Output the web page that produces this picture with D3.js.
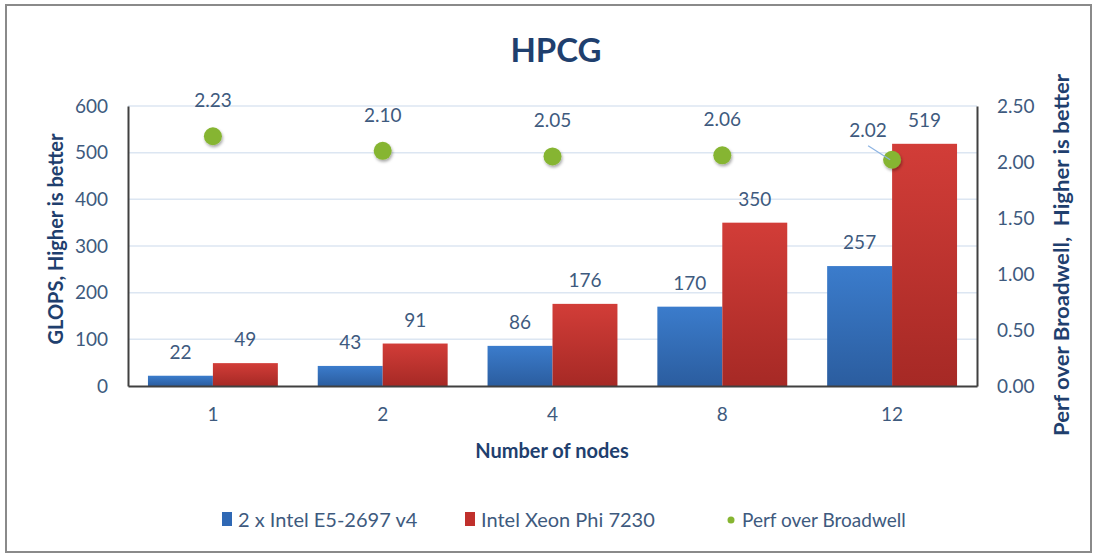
<!DOCTYPE html>
<html>
<head>
<meta charset="utf-8">
<script src="https://cdn.jsdelivr.net/npm/d3@7"></script>
<style>
  body { margin: 0; background: #fff; }
  svg { font-family: Lato, "Open Sans", sans-serif; }
</style>
</head>
<body>
<svg id="chart" width="1098" height="555"></svg>
<script>
// data
var nodes = ["1", "2", "4", "8", "12"];
var broadwell = [22, 43, 86, 170, 257];
var xeonPhi = [49, 91, 176, 350, 519];
var perfRatio = [2.23, 2.10, 2.05, 2.06, 2.02];
var leftTicks = [0, 100, 200, 300, 400, 500, 600];
var rightTicks = [0, 0.5, 1, 1.5, 2, 2.5];
var seriesNames = ["2 x Intel E5-2697 v4", "Intel Xeon Phi 7230", "Perf over Broadwell"];

var textColor = "#3e5a7e";
var titleColor = "#1f3f6e";

var svg = d3.select("#chart");
var margin = {left: 128, right: 977, top: 106, bottom: 386};

// outer frame
svg.append("rect")
    .attr("x", 6).attr("y", 5)
    .attr("width", 1085).attr("height", 547)
    .attr("fill", "#fff")
    .attr("stroke", "#8a8a8a")
    .attr("stroke-width", 2);

var defs = svg.append("defs");
function grad(id, top, bottom) {
    var g = defs.append("linearGradient").attr("id", id)
        .attr("x1", 0).attr("y1", 0).attr("x2", 0).attr("y2", 1);
    g.append("stop").attr("offset", "0%").attr("stop-color", top);
    g.append("stop").attr("offset", "100%").attr("stop-color", bottom);
}
grad("gBlue", "#3b7ccc", "#2b5d9f");
grad("gRed", "#d23d38", "#a62925");
var f = defs.append("filter").attr("id", "shadow")
    .attr("x", "-50%").attr("y", "-50%").attr("width", "200%").attr("height", "200%");
f.append("feDropShadow").attr("dx", 1).attr("dy", 2).attr("stdDeviation", 1.5)
    .attr("flood-color", "#000").attr("flood-opacity", 0.35);

var x0 = d3.scaleBand()
    .domain(nodes)
    .range([margin.left, margin.right])
    .paddingInner(0.235)
    .paddingOuter(0.1175);
var x1 = d3.scaleBand()
    .domain([0, 1])
    .range([0, x0.bandwidth()]);
var yLeft = d3.scaleLinear().domain([0, 600]).range([margin.bottom, margin.top]);
var yRight = d3.scaleLinear().domain([0, 2.5]).range([margin.bottom, margin.top]);

// gridlines
svg.append("g")
    .selectAll("line")
    .data(leftTicks.slice(1))
    .enter()
    .append("line")
    .attr("x1", margin.left).attr("x2", margin.right)
    .attr("y1", function(d){ return yLeft(d); })
    .attr("y2", function(d){ return yLeft(d); })
    .attr("stroke", "#dce6f2")
    .attr("stroke-width", 1.5);

// bars
var seriesData = [broadwell, xeonPhi];
var fills = ["url(#gBlue)", "url(#gRed)"];
seriesData.forEach(function(vals, s){
    svg.append("g")
        .selectAll("rect")
        .data(vals)
        .enter()
        .append("rect")
        .attr("x", function(d,i){ return x0(nodes[i]) + x1(s); })
        .attr("y", function(d){ return yLeft(d); })
        .attr("width", x1.bandwidth())
        .attr("height", function(d){ return yLeft(0) - yLeft(d); })
        .attr("fill", fills[s]);

    svg.append("g")
        .selectAll("text")
        .data(vals)
        .enter()
        .append("text")
        .attr("x", function(d,i){ return x0(nodes[i]) + x1(s) + x1.bandwidth() / 2; })
        .attr("y", function(d){ return yLeft(d) - 17; })
        .attr("text-anchor", "middle")
        .attr("font-size", "19px")
        .attr("fill", textColor)
        .text(function(d){ return d; });
});

// axes
var leftAxis = d3.axisLeft(yLeft).tickValues(leftTicks).tickSize(0).tickPadding(20);
var gl = svg.append("g").attr("transform", "translate(" + margin.left + ",0)").call(leftAxis);
var rightAxis = d3.axisRight(yRight).tickValues(rightTicks).tickSize(0).tickPadding(20)
    .tickFormat(d3.format(".2f"));
var gr = svg.append("g").attr("transform", "translate(" + margin.right + ",0)").call(rightAxis);
var bottomAxis = d3.axisBottom(x0).tickSize(0).tickPadding(22);
var gb = svg.append("g").attr("transform", "translate(0," + margin.bottom + ")").call(bottomAxis);

[gl, gr, gb].forEach(function(g){
    g.selectAll("text")
        .attr("font-size", "19px")
        .attr("fill", textColor)
        .attr("font-family", "Lato, sans-serif");
    g.select(".domain")
        .attr("stroke", "#404040")
        .attr("stroke-width", 2);
});

// perf points
var pts = svg.append("g");
pts.selectAll("circle")
    .data(perfRatio)
    .enter()
    .append("circle")
    .attr("cx", function(d,i){ return x0(nodes[i]) + x0.bandwidth() / 2; })
    .attr("cy", function(d){ return yRight(d); })
    .attr("r", 9)
    .attr("fill", "#86b531")
    .attr("filter", "url(#shadow)");

// last label is pulled aside with a leader line
var lastI = perfRatio.length - 1;
var lx = x0(nodes[lastI]) + x0.bandwidth() / 2;
var ly = yRight(perfRatio[lastI]);
svg.append("line")
    .attr("x1", lx - 24).attr("y1", ly - 14)
    .attr("x2", lx - 2).attr("y2", ly)
    .attr("stroke", "#8db3e2")
    .attr("stroke-width", 1.2);

svg.append("g")
    .selectAll("text")
    .data(perfRatio)
    .enter()
    .append("text")
    .attr("x", function(d,i){
        var cx = x0(nodes[i]) + x0.bandwidth() / 2;
        return i === lastI ? cx - 24 : cx;
    })
    .attr("y", function(d,i){
        return i === lastI ? yRight(d) - 23 : yRight(d) - 29;
    })
    .attr("text-anchor", "middle")
    .attr("font-size", "19px")
    .attr("fill", textColor)
    .text(function(d){ return d3.format(".2f")(d); });

// titles
svg.append("text")
    .attr("x", 556).attr("y", 62)
    .attr("text-anchor", "middle")
    .attr("font-size", "33px")
    .attr("font-weight", "bold")
    .attr("fill", titleColor)
    .text("HPCG");

svg.append("text")
    .attr("x", 552).attr("y", 458)
    .attr("text-anchor", "middle")
    .attr("font-size", "20px")
    .attr("font-weight", "bold")
    .attr("fill", titleColor)
    .text("Number of nodes");

svg.append("text")
    .attr("transform", "translate(63,239) rotate(-90)")
    .attr("text-anchor", "middle")
    .attr("font-size", "20px")
    .attr("font-weight", "bold")
    .attr("fill", titleColor)
    .text("GLOPS, Higher is better");

svg.append("text")
    .attr("transform", "translate(1069,255) rotate(-90)")
    .attr("text-anchor", "middle")
    .attr("font-size", "20px")
    .attr("font-weight", "bold")
    .attr("fill", titleColor)
    .attr("textLength", 362)
    .attr("lengthAdjust", "spacingAndGlyphs")
    .style("white-space", "pre")
    .text("Perf over Broadwell,  Higher is better");

// legend
var legendX = [222, 465, 726];
var legendColors = ["#2f68b4", "#c0302c", "#86b531"];
var lg = svg.append("g");
seriesNames.forEach(function(name, i){
    if (i < 2) {
        lg.append("rect")
            .attr("x", legendX[i]).attr("y", 512)
            .attr("width", 10).attr("height", 14)
            .attr("fill", legendColors[i]);
    } else {
        lg.append("circle")
            .attr("cx", legendX[i] + 5).attr("cy", 520)
            .attr("r", 3.5)
            .attr("fill", legendColors[i]);
    }
    lg.append("text")
        .attr("x", legendX[i] + 16).attr("y", 527)
        .attr("font-size", i === 2 ? "19px" : "20px")
        .attr("fill", textColor)
        .text(name);
});
</script>
</body>
</html>
